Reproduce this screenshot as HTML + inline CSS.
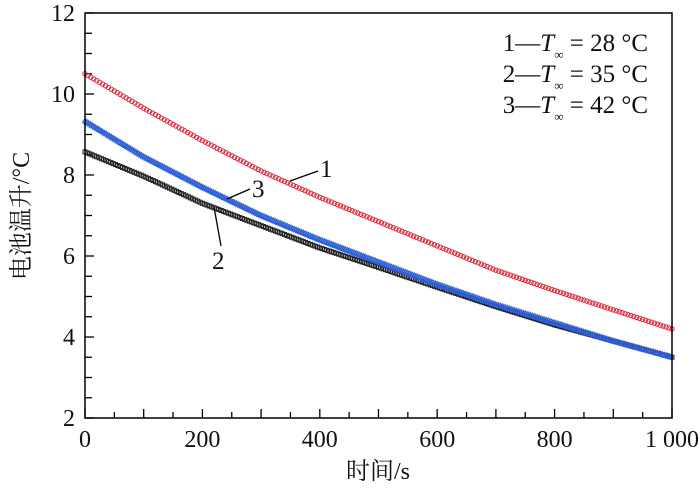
<!DOCTYPE html>
<html><head><meta charset="utf-8">
<style>
html,body{margin:0;padding:0;background:#fff;}
svg{display:block;}
text{font-family:"Liberation Serif","Noto Serif CJK SC",serif;fill:#111;}
</style></head>
<body>
<svg id="chart" width="700" height="492" viewBox="0 0 700 492">
<g id="ticks"></g>
<g id="series"></g>
<rect x="85" y="13" width="587" height="405" fill="none" stroke="#000" stroke-width="1.5"/>
<g id="labels"></g>
<text x="378" y="479" font-size="24" text-anchor="middle">时间/s</text>
<text transform="translate(29,216) rotate(-90)" font-size="24" text-anchor="middle">电池温升/°C</text>
<g font-size="25">
<text x="648" y="51" text-anchor="end">1—<tspan font-style="italic">T</tspan><tspan font-size="13" dy="8">∞</tspan><tspan dy="-8"> = 28 °C</tspan></text>
<text x="648" y="82" text-anchor="end">2—<tspan font-style="italic">T</tspan><tspan font-size="13" dy="8">∞</tspan><tspan dy="-8"> = 35 °C</tspan></text>
<text x="648" y="113" text-anchor="end">3—<tspan font-style="italic">T</tspan><tspan font-size="13" dy="8">∞</tspan><tspan dy="-8"> = 42 °C</tspan></text>
</g>
<g stroke="#000" stroke-width="1.3">
<line x1="290" y1="181" x2="318" y2="171"/>
<line x1="227" y1="199" x2="250" y2="189"/>
<line x1="214" y1="207" x2="221" y2="246"/>
</g>
<text x="320" y="177" font-size="25">1</text>
<text x="252" y="197" font-size="25">3</text>
<text x="212" y="269" font-size="25">2</text>
</svg>
<script>
const times = [0,100,200,300,400,500,600,700,800,900,1000];
const series1 = [10.5,9.65,8.85,8.1,7.45,6.85,6.25,5.65,5.15,4.67,4.2];
const series2 = [8.57,7.97,7.3,6.75,6.2,5.72,5.23,4.75,4.3,3.9,3.5];
const series3 = [9.33,8.45,7.7,7.0,6.4,5.85,5.3,4.8,4.35,3.9,3.5];
const xTickLabels = [0,200,400,600,800,"1 000"];
const xTickValues = [0,200,400,600,800,1000];
const yTickValues = [2,4,6,8,10,12];

const NS="http://www.w3.org/2000/svg";
const X0=85,X1=672,Y0=418,Y1=13;
function sx(v){return X0+(v-0)/(1000-0)*(X1-X0);}
function sy(v){return Y0-(v-2)/(12-2)*(Y0-Y1);}
function mk(tag,attrs,parent){const e=document.createElementNS(NS,tag);for(const k in attrs)e.setAttribute(k,attrs[k]);parent.appendChild(e);return e;}

const tg=document.getElementById('ticks');
for(let v=0;v<=1000;v+=50){
  const len=(v%100===0)?9:6;
  const l=mk('line',{x1:sx(v),x2:sx(v),y1:Y0,y2:Y0-len,stroke:'#000','stroke-width':1.3},tg);
  
  
}
for(let v=2;v<=12;v+=0.5){
  const len=(v%2===0)?9:7;
  const l=mk('line',{x1:X0,x2:X0+len,y1:sy(v),y2:sy(v),stroke:'#000','stroke-width':1.3},tg);
  
  
}
const lg=document.getElementById('labels');
xTickValues.forEach((v,i)=>{
  const t=mk('text',{x:sx(v),y:447,'font-size':24,'text-anchor':'middle'},lg);
  t.textContent=xTickLabels[i];
  
  
});
yTickValues.forEach(v=>{
  const t=mk('text',{x:75,y:sy(v)+8,'font-size':24,'text-anchor':'end'},lg);
  t.textContent=v;
  
  
});

function valueAt(arr,t){
  const i=Math.min(Math.floor(t/100),times.length-2);
  const f=(t-times[i])/(times[i+1]-times[i]);
  return arr[i]+(arr[i+1]-arr[i])*f;
}
const sg=document.getElementById('series');
function drawSeries(arr,name,kind,color,step){
  const g=mk('g',{},sg);
  
  
  for(let t=0;t<=1000.001;t+=step){
    const x=sx(t),y=sy(valueAt(arr,t));
    if(kind==='circle'){mk('circle',{cx:x,cy:y,r:2.2,fill:'none',stroke:color,'stroke-width':1},g);}
    else if(kind==='square'){mk('rect',{x:x-2,y:y-2,width:4,height:4,fill:'none',stroke:color,'stroke-width':1},g);}
    else {mk('path',{d:`M${x},${y-2.8}L${x+2.6},${y+1.8}L${x-2.6},${y+1.8}Z`,fill:'none',stroke:color,'stroke-width':1},g);}
  }
}
drawSeries(series2,'series-2-black','square','#222',4);
drawSeries(series3,'series-3-blue','triangle','#2f5fd6',3);
drawSeries(series1,'series-1-red','circle','#d8283a',5);
</script>
</body></html>
